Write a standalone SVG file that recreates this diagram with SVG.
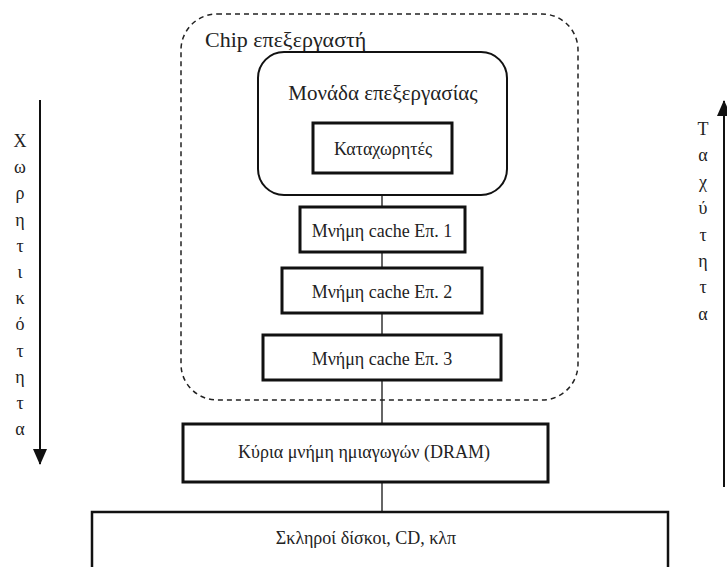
<svg xmlns="http://www.w3.org/2000/svg" width="727" height="567" viewBox="0 0 727 567">
<style>
text{font-family:"Liberation Serif","DejaVu Serif",serif;fill:#222}
.box{fill:none;stroke:#111;stroke-width:3}
.lbl{font-size:18px;text-anchor:middle}
.v{font-size:18px;text-anchor:middle}
.conn{stroke:#333;stroke-width:1.5;fill:none}
</style>
<defs>
<marker id="ah" viewBox="0 0 16 14" refX="15" refY="7" markerWidth="16" markerHeight="14" markerUnits="userSpaceOnUse" orient="auto">
<path d="M0,0 L16,7 L0,14 Z" fill="#111"/>
</marker>
</defs>
<rect width="727" height="567" fill="#fff"/>
<g id="connectors">
<line class="conn" x1="382" y1="195" x2="382" y2="207"/>
<line class="conn" x1="382" y1="252" x2="382" y2="268"/>
<line class="conn" x1="382" y1="313" x2="382" y2="335"/>
<line class="conn" x1="382" y1="380" x2="382" y2="424"/>
<line class="conn" x1="382" y1="482" x2="382" y2="512"/>
</g>
<g id="chip">
<rect x="181" y="14" width="397" height="386" rx="36" ry="36" fill="none" stroke="#222" stroke-width="1.5" stroke-dasharray="5,4"/>
<text x="205" y="47" font-size="22">Chip επεξεργαστή</text>
</g>
<g id="unit">
<rect x="258" y="52" width="249" height="143" rx="26" ry="26" fill="none" stroke="#111" stroke-width="2"/>
<text x="383" y="100" font-size="21" text-anchor="middle">Μονάδα επεξεργασίας</text>
</g>
<g id="registers">
<rect class="box" x="313" y="123" width="139" height="50"/>
<text class="lbl" x="383" y="155" font-size="19">Καταχωρητές</text>
</g>
<g id="cache1">
<rect class="box" x="300" y="207" width="165" height="45"/>
<text class="lbl" x="382" y="237">Μνήμη cache Επ. 1</text>
</g>
<g id="cache2">
<rect class="box" x="282" y="268" width="200" height="45"/>
<text class="lbl" x="382" y="298">Μνήμη cache Επ. 2</text>
</g>
<g id="cache3">
<rect class="box" x="263" y="335" width="238" height="45"/>
<text class="lbl" x="382" y="365">Μνήμη cache Επ. 3</text>
</g>
<g id="dram">
<rect class="box" x="183" y="424" width="365" height="58"/>
<text class="lbl" x="364" y="458">Κύρια μνήμη ημιαγωγών (DRAM)</text>
</g>
<g id="disks">
<rect x="92" y="512" width="576" height="70" fill="none" stroke="#111" stroke-width="2.5"/>
<text class="lbl" x="366" y="544">Σκληροί δίσκοι, CD, κλπ</text>
</g>
<g id="capacity">
<line x1="40" y1="100" x2="40" y2="464" stroke="#111" stroke-width="2" marker-end="url(#ah)"/>
<text class="v" x="20" y="147">Χ</text>
<text class="v" x="20" y="173">ω</text>
<text class="v" x="20" y="199">ρ</text>
<text class="v" x="20" y="226">η</text>
<text class="v" x="20" y="252">τ</text>
<text class="v" x="20" y="278">ι</text>
<text class="v" x="20" y="304">κ</text>
<text class="v" x="20" y="330">ό</text>
<text class="v" x="20" y="357">τ</text>
<text class="v" x="20" y="383">η</text>
<text class="v" x="20" y="409">τ</text>
<text class="v" x="20" y="435">α</text>
</g>
<g id="speed">
<line x1="724" y1="487" x2="724" y2="101" stroke="#111" stroke-width="2" marker-end="url(#ah)"/>
<text class="v" x="703" y="135">Τ</text>
<text class="v" x="703" y="161">α</text>
<text class="v" x="703" y="188">χ</text>
<text class="v" x="703" y="214">ύ</text>
<text class="v" x="703" y="241">τ</text>
<text class="v" x="703" y="267">η</text>
<text class="v" x="703" y="293">τ</text>
<text class="v" x="703" y="320">α</text>
</g>
</svg>
